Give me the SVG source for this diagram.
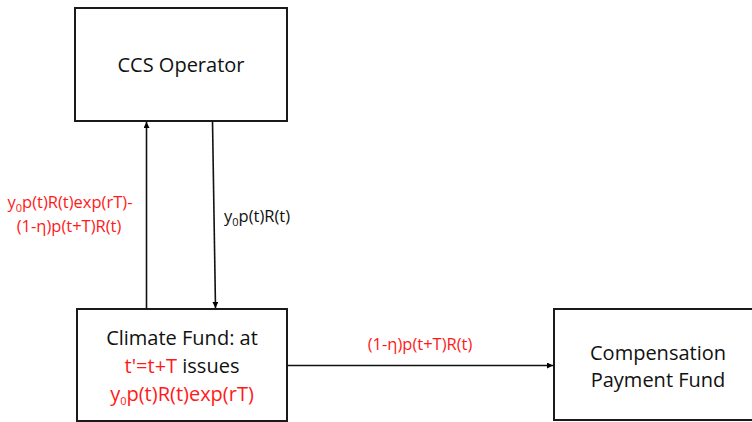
<svg xmlns="http://www.w3.org/2000/svg" width="752" height="422" viewBox="0 0 752 422">
<defs>
<marker id="ah" viewBox="0 0 6 6" refX="6" refY="3" markerWidth="6" markerHeight="6" markerUnits="userSpaceOnUse" orient="auto">
<path d="M0,0 L6,3 L0,6 Z" fill="#000"/>
</marker>
</defs>
<style>
.box{fill:#fff;stroke:#1a1a1a;stroke-width:2}
.t{font-family:"Open Sans",Lato,"Liberation Sans",sans-serif;font-size:20px;fill:#111;text-anchor:middle}
.lbl{font-family:"Open Sans",Lato,"Liberation Sans",sans-serif;font-size:16.5px;fill:#111}
.r{fill:#ff1a1a}
.conn{stroke:#111;stroke-width:1.6;fill:none;marker-end:url(#ah)}
.sub{font-size:11px}
</style>
<rect width="752" height="422" fill="#fff"/>
<g id="ccs-operator">
<rect class="box" x="75" y="8" width="212" height="113"/>
<text class="t" x="181" y="72">CCS Operator</text>
</g>
<g id="climate-fund">
<rect class="box" x="77" y="309" width="210" height="112"/>
<text class="t" x="182" y="345">Climate Fund: at</text>
<text class="t" x="182" y="373"><tspan class="r">t'=t+T</tspan> issues</text>
<text class="t r" x="182" y="401">y<tspan class="sub" dy="4">0</tspan><tspan dy="-4">p(t)R(t)exp(rT)</tspan></text>
</g>
<g id="compensation-fund">
<rect class="box" x="554" y="309" width="200" height="111"/>
<text class="t" x="658" y="360">Compensation</text>
<text class="t" x="658" y="387">Payment Fund</text>
</g>
<g id="connectors">
<line class="conn" x1="146.5" y1="309" x2="146.5" y2="122"/>
<line class="conn" x1="212.5" y1="121" x2="215.5" y2="308"/>
<line class="conn" x1="287" y1="365.5" x2="553" y2="365.5"/>
<text class="lbl r" x="70" y="208" text-anchor="middle">y<tspan class="sub" dy="4">0</tspan><tspan dy="-4">p(t)R(t)exp(rT)-</tspan></text>
<text class="lbl r" x="69" y="232" text-anchor="middle">(1-η)p(t+T)R(t)</text>
<text class="lbl" x="224" y="222">y<tspan class="sub" dy="4">0</tspan><tspan dy="-4">p(t)R(t)</tspan></text>
<text class="lbl r" x="420" y="350" text-anchor="middle">(1-η)p(t+T)R(t)</text>
</g>
</svg>
